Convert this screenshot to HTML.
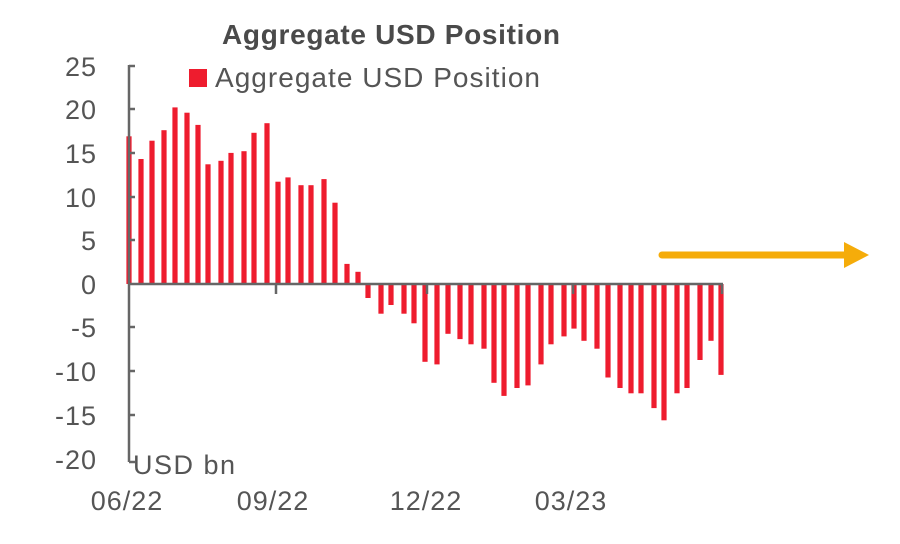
<!DOCTYPE html>
<html><head><meta charset="utf-8"><style>
html,body{margin:0;padding:0;background:#fff;}
svg{display:block;font-family:"Liberation Sans",sans-serif;}
</style></head><body>
<svg width="900" height="544" xmlns="http://www.w3.org/2000/svg">
<text x="391" y="44" text-anchor="middle" font-size="28" font-weight="bold" fill="#4a4a4a" textLength="338">Aggregate USD Position</text>
<rect x="189" y="69" width="18" height="18" fill="#ee1c2e"/>
<text x="215" y="87" font-size="28" fill="#555" textLength="325">Aggregate USD Position</text>
<g font-size="27" fill="#555" text-anchor="end" letter-spacing="1">
<text x="97" y="76">25</text><text x="97" y="119">20</text><text x="97" y="163">15</text>
<text x="97" y="207">10</text><text x="97" y="250">5</text><text x="97" y="294">0</text>
<text x="97" y="337">-5</text><text x="97" y="381">-10</text><text x="97" y="425">-15</text>
<text x="97" y="469">-20</text>
</g>
<g font-size="27" fill="#555" text-anchor="middle" letter-spacing="1">
<text x="127" y="510">06/22</text><text x="273" y="510">09/22</text>
<text x="426" y="510">12/22</text><text x="571" y="510">03/23</text>
</g>
<text x="133" y="474" font-size="27" fill="#555" textLength="102">USD bn</text>
<g fill="#ee1c2e">
<rect x="126.4" y="136.3" width="5.2" height="147.7"/>
<rect x="138.4" y="159.0" width="5.2" height="125.0"/>
<rect x="149.4" y="140.7" width="5.2" height="143.3"/>
<rect x="161.4" y="130.2" width="5.2" height="153.8"/>
<rect x="172.4" y="107.4" width="5.2" height="176.6"/>
<rect x="184.4" y="112.7" width="5.2" height="171.3"/>
<rect x="195.4" y="124.9" width="5.2" height="159.1"/>
<rect x="205.4" y="164.3" width="5.2" height="119.7"/>
<rect x="218.4" y="160.8" width="5.2" height="123.2"/>
<rect x="228.4" y="152.9" width="5.2" height="131.1"/>
<rect x="241.4" y="151.2" width="5.2" height="132.8"/>
<rect x="251.4" y="132.8" width="5.2" height="151.2"/>
<rect x="264.4" y="123.2" width="5.2" height="160.8"/>
<rect x="275.4" y="181.7" width="5.2" height="102.3"/>
<rect x="285.4" y="177.4" width="5.2" height="106.6"/>
<rect x="298.4" y="185.2" width="5.2" height="98.8"/>
<rect x="308.4" y="185.2" width="5.2" height="98.8"/>
<rect x="321.4" y="179.1" width="5.2" height="104.9"/>
<rect x="332.4" y="202.7" width="5.2" height="81.3"/>
<rect x="344.4" y="263.9" width="5.2" height="20.1"/>
<rect x="355.4" y="271.8" width="5.2" height="12.2"/>
<rect x="365.4" y="284" width="5.2" height="14.0"/>
<rect x="378.4" y="284" width="5.2" height="29.7"/>
<rect x="388.4" y="284" width="5.2" height="21.0"/>
<rect x="401.4" y="284" width="5.2" height="29.7"/>
<rect x="411.4" y="284" width="5.2" height="39.3"/>
<rect x="422.4" y="284" width="5.2" height="77.8"/>
<rect x="434.4" y="284" width="5.2" height="80.4"/>
<rect x="445.4" y="284" width="5.2" height="49.8"/>
<rect x="457.4" y="284" width="5.2" height="55.1"/>
<rect x="468.4" y="284" width="5.2" height="60.3"/>
<rect x="481.4" y="284" width="5.2" height="64.7"/>
<rect x="491.4" y="284" width="5.2" height="98.8"/>
<rect x="501.4" y="284" width="5.2" height="111.9"/>
<rect x="514.4" y="284" width="5.2" height="104.0"/>
<rect x="525.4" y="284" width="5.2" height="101.4"/>
<rect x="538.4" y="284" width="5.2" height="80.4"/>
<rect x="548.4" y="284" width="5.2" height="60.3"/>
<rect x="561.4" y="284" width="5.2" height="52.4"/>
<rect x="571.4" y="284" width="5.2" height="44.6"/>
<rect x="581.4" y="284" width="5.2" height="56.8"/>
<rect x="594.4" y="284" width="5.2" height="64.7"/>
<rect x="605.4" y="284" width="5.2" height="93.5"/>
<rect x="617.4" y="284" width="5.2" height="104.0"/>
<rect x="628.4" y="284" width="5.2" height="109.3"/>
<rect x="638.4" y="284" width="5.2" height="109.3"/>
<rect x="651.4" y="284" width="5.2" height="124.1"/>
<rect x="661.4" y="284" width="5.2" height="136.3"/>
<rect x="674.4" y="284" width="5.2" height="109.3"/>
<rect x="684.4" y="284" width="5.2" height="104.0"/>
<rect x="697.4" y="284" width="5.2" height="76.0"/>
<rect x="708.4" y="284" width="5.2" height="56.8"/>
<rect x="718.4" y="284" width="5.2" height="90.9"/>
</g>
<g stroke="#666" stroke-width="2.5" fill="none">
<line x1="129" y1="65" x2="129" y2="462"/>
<line x1="128" y1="284" x2="723" y2="284"/>
<line x1="129" y1="462" x2="135" y2="462"/>
<line x1="129" y1="66" x2="135" y2="66"/><line x1="129" y1="109" x2="135" y2="109"/>
<line x1="129" y1="153" x2="135" y2="153"/><line x1="129" y1="197" x2="135" y2="197"/>
<line x1="129" y1="240" x2="135" y2="240"/><line x1="129" y1="327" x2="135" y2="327"/>
<line x1="129" y1="371" x2="135" y2="371"/><line x1="129" y1="415" x2="135" y2="415"/>
<line x1="276" y1="284" x2="276" y2="294"/><line x1="427" y1="284" x2="427" y2="294"/>
<line x1="573" y1="284" x2="573" y2="294"/><line x1="722" y1="284" x2="722" y2="294"/>
</g>
<line x1="662" y1="255" x2="846" y2="255" stroke="#f5ac0a" stroke-width="7" stroke-linecap="round"/>
<polygon points="844,242 869,255 844,268" fill="#f5ac0a"/>
</svg>
</body></html>
